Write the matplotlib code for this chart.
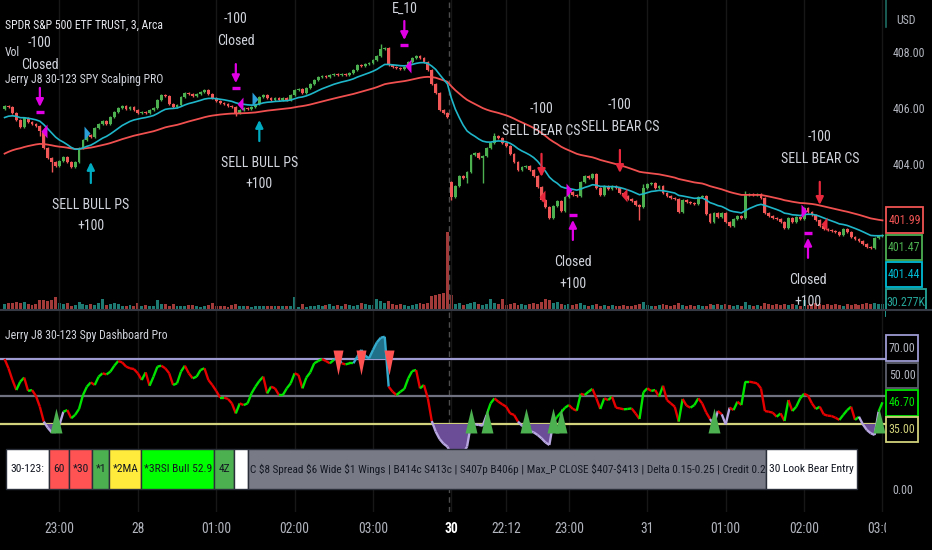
import numpy as np
import matplotlib
matplotlib.use("Agg")
import matplotlib.pyplot as plt
from matplotlib import font_manager
from matplotlib.collections import LineCollection
from matplotlib.patches import Rectangle

# ---- values: SPY 3 min bars, two extended sessions ----
closes = [
    406.07, 406.04, 405.82, 405.57, 405.32, 405.64, 405.50, 405.43, 405.36, 405.18,
    404.57, 404.21, 404.07, 403.93, 404.11, 404.25, 404.07, 403.89, 404.07, 404.57,
    404.86, 405.04, 404.96, 405.29, 405.43, 405.54, 405.43, 405.68, 405.86, 406.00,
    406.07, 405.96, 406.04, 405.93, 405.82, 405.86, 405.82, 405.93, 406.00, 406.29,
    406.46, 406.43, 406.14, 406.04, 406.11, 406.39, 406.54, 406.50, 406.43, 406.50,
    406.57, 406.64, 406.50, 406.36, 406.25, 406.18, 406.14, 406.07, 406.04, 405.82,
    405.93, 406.00, 405.96, 406.04, 406.14, 406.39, 406.46, 406.36, 406.29, 406.36,
    406.29, 406.36, 406.29, 406.46, 406.64, 406.68, 406.54, 406.71, 406.86, 407.00,
    407.11, 407.14, 407.11, 407.18, 407.21, 407.18, 407.21, 407.18, 407.25, 407.36,
    407.54, 407.50, 407.57, 407.61, 407.71, 407.86, 408.11, 408.14, 407.54, 407.46,
    407.43, 407.39, 407.46, 407.64, 407.79, 407.86, 407.79, 407.64, 407.36, 406.86,
    406.54, 405.93, 405.82, 405.68,
    402.82, 403.21, 403.57, 403.50, 403.71, 404.32,
    404.39, 404.21, 404.29, 404.57, 404.75, 405.00, 404.93, 404.75, 404.64, 404.36,
    404.07, 403.79, 403.89, 403.93, 403.79, 403.57, 403.18, 402.71, 402.46, 402.07,
    402.50, 402.68, 402.32, 402.82, 403.00, 402.89, 402.86, 403.36, 403.57, 403.50,
    403.64, 403.14, 402.89, 403.21, 403.11, 403.21, 403.14, 402.96, 402.86, 402.75,
    402.68, 402.54, 402.46, 403.14, 403.29, 403.32, 403.14, 403.21, 402.96, 402.86,
    402.79, 402.75, 402.29, 402.71, 402.64, 402.61, 402.57, 402.82, 402.86, 402.21,
    401.93, 402.25, 402.11, 402.25, 401.93, 401.79, 402.04, 402.14, 402.07, 402.89,
    402.93, 402.89, 402.93, 402.79, 402.25, 402.14, 402.07, 402.04, 401.93, 401.71,
    402.07, 401.93, 402.11, 402.04, 402.43, 402.29, 402.18, 402.00, 401.79, 401.68,
    401.64, 401.61, 401.57, 401.46, 401.68, 401.57, 401.39, 401.32, 401.25, 401.14,
    401.04, 401.00, 401.36, 401.43, 401.47,
]
first_open = 405.95
gap_open = {114: 403.36}
long_low = {9: 405.00, 12: 403.72, 59: 405.72, 114: 402.72, 118: 403.32,
            122: 403.32, 162: 402.00, 189: 402.05}
long_high = {96: 408.30, 125: 405.10, 163: 403.30, 189: 403.05}

# volume in thousands
volumes = [
    30, 36, 36, 42, 36, 42, 30, 24, 30, 54,
    54, 48, 54, 72, 36, 30, 36, 18, 24, 42,
    30, 24, 30, 24, 36, 60, 24, 30, 36, 30,
    18, 18, 24, 18, 36, 18, 24, 18, 18, 54,
    30, 30, 18, 30, 18, 18, 18, 24, 24, 18,
    12, 18, 24, 36, 18, 18, 18, 12, 24, 30,
    18, 18, 18, 12, 18, 18, 18, 18, 18, 18,
    18, 18, 18, 18, 72, 12, 30, 12, 18, 18,
    24, 18, 24, 30, 18, 24, 18, 30, 24, 18,
    24, 36, 30, 24, 24, 60, 48, 36, 48, 30,
    24, 30, 24, 18, 24, 30, 36, 30, 36, 80,
    84, 90, 100, 470,
    84, 30, 36, 24, 30, 36, 42, 30, 24, 30,
    60, 36, 30, 60, 24, 30, 36, 24, 30, 24,
    30, 36, 30, 42, 60, 54, 36, 42, 30, 24,
    30, 24, 30, 36, 24, 18, 24, 30, 18, 24,
    18, 24, 18, 18, 24, 18, 18, 24, 30, 42,
    24, 18, 18, 24, 30, 24, 18, 24, 36, 24,
    18, 24, 18, 24, 18, 18, 30, 24, 30, 24,
    30, 24, 18, 24, 18, 42, 24, 18, 24, 18,
    36, 30, 24, 30, 24, 30, 24, 30, 24, 18,
    54, 24, 30, 36, 30, 24, 30, 24, 30, 24,
    18, 30, 24, 30, 24, 30, 36, 30, 36, 30, 30.277,
]

# dashboard RSI line
rsi = [
    70.0, 65.0, 58.7, 53.3, 57.8, 60.0, 52.8, 53.3, 50.1, 44.3,
    36.3, 33.0, 30.5, 30.5, 34.5, 41.6, 42.5, 38.1, 39.9, 43.1,
    50.6, 55.1, 57.4, 56.0, 60.5, 62.3, 61.7, 63.2, 66.4, 68.9,
    68.2, 65.9, 65.0, 64.6, 62.3, 58.7, 62.8, 55.6, 60.5, 65.9,
    66.4, 65.0, 62.3, 56.0, 56.9, 63.2, 66.4, 62.3, 59.6, 60.5,
    64.1, 65.0, 58.7, 56.0, 52.8, 49.2, 49.2, 48.5, 46.1, 40.7,
    46.1, 45.2, 46.1, 51.5, 55.1, 58.2, 60.5, 51.5, 55.1, 54.2,
    50.6, 50.6, 54.2, 56.9, 62.3, 61.4, 54.2, 60.0, 62.8, 67.7,
    68.9, 70.0, 68.9, 67.7, 69.5, 71.3, 67.7, 67.1, 67.7, 67.7,
    71.3, 74.9, 71.8, 70.4, 74.9, 79.0, 81.5, 82.0, 55.1, 52.4,
    50.6, 52.4, 53.9, 59.6, 63.5, 64.1, 54.2, 56.0, 48.8, 36.6,
    30.9, 26.9, 24.4, 22.8,
    18.3, 17.4, 18.3, 19.2, 22.8, 34.8, 34.8, 34.5, 34.1, 39.9,
    46.1, 48.8, 47.0, 45.6, 44.3, 40.7, 39.9, 36.3, 34.1, 32.3,
    31.2, 30.5, 29.1, 27.3, 25.1, 23.7, 35.9, 38.9, 41.3, 43.8,
    45.2, 43.1, 42.2, 51.3, 50.6, 52.4, 53.9, 48.8, 43.1, 48.8,
    47.9, 49.7, 43.8, 43.4, 42.9, 43.1, 43.4, 40.7, 37.7, 52.1,
    54.2, 52.8, 53.3, 49.7, 55.6, 47.9, 46.1, 44.3, 36.3, 48.5,
    44.9, 43.8, 45.2, 48.8, 46.1, 41.3, 37.7, 34.5, 42.0, 40.2,
    34.8, 43.8, 42.5, 47.0, 45.2, 57.8, 57.8, 57.4, 56.9, 54.2,
    42.0, 41.6, 41.1, 38.9, 40.7, 36.6, 47.9, 42.0, 44.3, 48.8,
    51.3, 50.3, 46.1, 43.1, 44.3, 40.2, 39.5, 39.3, 38.4, 37.2,
    39.9, 42.5, 44.3, 37.2, 38.9, 34.8, 31.8, 30.0, 29.1, 41.6, 46.7,
]

tick_pos = [14, 34, 54, 74, 94, 114, 128, 144, 164, 184, 204, 224]
tick_labels = ["23:00", "28", "01:00", "02:00", "03:00", "30", "22:12",
               "23:00", "31", "01:00", "02:00", "03:00"]
session_break = 113.5

ema_fast_len, ema_fast_seed = 15, 405.60
ema_slow_len, ema_slow_seed = 50, 404.30

# strategy labels
ann_bars = [9, 59, 102, 22, 65, 137, 157, 208, 145, 205]
ann_price = [405.86, 406.71, 408.25, 404.07, 405.57, 403.54, 403.68, 402.54, 402.18, 401.54]
ann_kind = ["exit_dn", "exit_dn", "exit_dn", "bull_up", "bull_up",
            "bear_dn", "bear_dn", "bear_dn", "exit_up", "exit_up"]
ann_text = [("-100", "Closed"), ("-100", "Closed"), ("", "E_10"),
            ("SELL BULL PS", "+100"), ("SELL BULL PS", "+100"),
            ("-100", "SELL BEAR CS"), ("-100", "SELL BEAR CS"), ("-100", "SELL BEAR CS"),
            ("Closed", "+100"), ("Closed", "+100")]

# small flags next to the candles
sig_bars = [10, 21, 60, 64, 103, 137, 144, 158, 204, 209]
sig_price = [405.18, 405.11, 406.14, 406.32, 407.50, 402.82, 403.07, 402.89, 402.32, 401.86]
sig_dir = ["<", ">", "<", ">", "<", "<", ">", "<", ">", "<"]
sig_kind = ["exit", "bull", "exit", "bull", "exit", "bear", "exit", "bear", "exit", "bear"]

# dashboard triangles
bull_bars = [13, 119, 123, 133, 140, 142, 181, 223]
bear_bars = [85, 91, 98]
rsi_levels = [70, 50, 35]

table_text = ["30-123:", "60", "*30", "*1", "*2MA", "*3RSI Bull 52.9", "4Z", "",
              "C $8 Spread $6 Wide $1 Wings | B414c S413c | S407p B406p | "
              "Max_P CLOSE $407-$413 | Delta 0.15-0.25 | Credit 0.2",
              "30 Look Bear Entry"]
table_colors = ["#ffffff", "#ff5252", "#ff5252", "#4caf50", "#ffeb3b", "#00ff00",
                "#4caf50", "#ffffff", "#787b86", "#ffffff"]

# ---- font: prefer a narrow face, the screenshot text is very condensed ----
names = {f.name for f in font_manager.fontManager.ttflist}
FONT, STRETCH = "DejaVu Sans", "normal"
for cand in ["Roboto Condensed", "Liberation Sans Narrow", "Noto Sans Condensed",
             "Open Sans Condensed", "DejaVu Sans Condensed"]:
    if cand in names:
        FONT = cand
        break
else:
    cond = [f for f in font_manager.fontManager.ttflist
            if str(f.stretch) in ("condensed", "semi-condensed", "extra-condensed")
            and f.style == "normal"]
    if cond:
        FONT, STRETCH = cond[0].name, str(cond[0].stretch)
plt.rcParams["font.family"] = [FONT, "DejaVu Sans"]
plt.rcParams["font.stretch"] = STRETCH

GREEN, RED = "#4caf50", "#f25757"
VUP, VDN = "#1d7a73", "#a23a3a"
MAG, CYAN, BEARRED, BLUE = "#e100e6", "#00acc1", "#e8283c", "#2a9fd8"
TXT = "#d1d4dc"
AXT = "#b2b5be"

W, H = 932, 550
fig = plt.figure(figsize=(W / 100, H / 100), dpi=100, facecolor="black")
renderer = fig.canvas.get_renderer()


def rect(x0, y0, x1, y1):
    return [x0 / W, 1 - y1 / H, (x1 - x0) / W, (y1 - y0) / H]


def fit(s, width_px, **kw):
    t = fig.text(0, 0, s, fontsize=10, **kw)
    w = t.get_window_extent(renderer).width
    t.remove()
    return 10 * width_px / w


def pt(px):
    return px * 0.72


def ema(values, length, seed):
    a = 2 / (length + 1)
    out, prev = [], seed
    for v in values:
        prev = prev + a * (v - prev)
        out.append(prev)
    return np.array(out)


fs_ann = fit("SELL BEAR CS", 54) * 1.45
fs_leg = fit("Jerry J8 30-123 SPY Scalping PRO", 122) * 1.3
fs_tick = fit("23:00", 22) * 1.35
fs_axis = fit("408.00", 28) * 1.15
fs_tab = min(fit("*3RSI Bull 52.9", 68), fit("30 Look Bear Entry", 86), fit("30-123:", 39))
fs_grey = fit(table_text[8], 512)

idx = np.arange(len(closes))
c = np.array(closes)
o = np.r_[first_open, c[:-1]]
for k, v in gap_open.items():
    o[k] = v
up = c >= o
hi = np.maximum(o, c) + 0.03
lo = np.minimum(o, c) - 0.03
for k, v in long_low.items():
    lo[k] = v
for k, v in long_high.items():
    hi[k] = v
fast = ema(c, ema_fast_len, ema_fast_seed)
slow = ema(c, ema_slow_len, ema_slow_seed)
r = np.array(rsi)

XL = (-1.17, 224.9)

# volume pane (under the candles)
ax_v = fig.add_axes(rect(0, 0, 886, 309))
ax_v.set_facecolor("black")
ax_v.bar(idx, volumes, width=0.75, color=np.where(up, VUP, VDN), linewidth=0)
ax_v.set_ylim(0, 1880)
ax_v.set_xlim(*XL)
ax_v.axis("off")

# price pane
ax_p = fig.add_axes(rect(0, 0, 886, 309))
ax_p.patch.set_visible(False)
for t in tick_pos:
    ax_p.axvline(t, color="#171717", lw=1, zorder=0)
ax_p.axvline(session_break, color="#4d4d4d", lw=1, ls=(0, (4, 3)), zorder=0)
col = np.where(up, GREEN, RED)
ax_p.vlines(idx, lo, hi, colors=col, lw=1, zorder=2)
ax_p.bar(idx, np.maximum(np.abs(c - o), 0.025), bottom=np.minimum(o, c),
         width=0.72, color=col, linewidth=0, zorder=3)
ax_p.plot(idx, slow, color="#f0504f", lw=1.3, zorder=4)
ax_p.plot(idx, fast, color="#1fb6c9", lw=1.2, zorder=4)
ax_p.set_xlim(*XL)
ax_p.set_ylim(398.82, 409.857)

tri_l = [(3, 7), (3, -7), (-3, 0)]
tri_r = [(-3, 7), (-3, -7), (3, 0)]
sig_col = {"exit": MAG, "bull": BLUE, "bear": BEARRED}
for b, p, d, k in zip(sig_bars, sig_price, sig_dir, sig_kind):
    ax_p.plot(b, p, marker=tri_l if d == "<" else tri_r, ms=10, color=sig_col[k],
              mec="none", zorder=5)

styles = {
    "exit_dn": (MAG, 24, 5, True, (69, 47)),
    "exit_up": (MAG, -25, 5, True, (-47, -69)),
    "bull_up": (CYAN, -21, 0, False, (-43, -64)),
    "bear_dn": (BEARRED, 23, 0, False, (68, 46)),
}
for b, p, k, lines in zip(ann_bars, ann_price, ann_kind, ann_text):
    color, shaft, gap, bar_mark, offs = styles[k]
    ax_p.annotate("", xy=(b, p), xytext=(0, pt(shaft)), textcoords="offset points",
                  arrowprops=dict(arrowstyle="-|>,head_length=0.45,head_width=0.22",
                                  color=color, lw=1.6, shrinkA=0, shrinkB=pt(gap)),
                  annotation_clip=False, zorder=6)
    if bar_mark:
        ax_p.plot(b, p, marker="_", ms=5.5, mew=2.4, color=color, zorder=6)
    for s, off in zip(lines, offs):
        if not s:
            continue
        t = ax_p.annotate(s, xy=(b, p), xytext=(0, pt(off)), textcoords="offset points",
                          ha="center", va="center", color=TXT, fontsize=fs_ann,
                          annotation_clip=False, zorder=6)
        bb = t.get_window_extent(renderer)
        if bb.y1 > H - 1:  # keep the label on the canvas
            t.xyann = (0, pt(off - (bb.y1 - H + 2)))

ax_p.yaxis.tick_right()
ax_p.set_yticks([404, 406, 408], [f"{v:.2f}" for v in (404, 406, 408)])
ax_p.tick_params(axis="y", length=0, pad=4.5, labelcolor=AXT, labelsize=fs_axis)
ax_p.tick_params(axis="x", bottom=False, labelbottom=False)
for s in ax_p.spines.values():
    s.set_visible(False)

# dashboard pane
ax_r = fig.add_axes(rect(0, 310, 886, 512))
ax_r.set_facecolor("black")
for t in tick_pos:
    ax_r.axvline(t, color="#171717", lw=1, zorder=0)
ax_r.axvline(session_break, color="#4d4d4d", lw=1, ls=(0, (4, 3)), zorder=0)
for lvl, lc in zip(rsi_levels, ["#9d9bd2", "#6f7080", "#d2d27c"]):
    ax_r.axhline(lvl, color=lc, lw=1.6, zorder=1)
ax_r.fill_between(idx, r, 35, where=r < 35, interpolate=True, color="#6b4c96", lw=0, zorder=2)
ax_r.fill_between(idx, r, 70, where=r > 70, interpolate=True, color="#1f7088", lw=0, zorder=2)
segs = np.stack([np.c_[idx[:-1], r[:-1]], np.c_[idx[1:], r[1:]]], axis=1)
seg_col = []
for a, b in zip(r[:-1], r[1:]):
    if a > 70 or b > 70:
        seg_col.append("#35aacd")
    elif a < 35 or b < 35:
        seg_col.append("#b7a6e0")
    elif b >= a:
        seg_col.append("#00e400")
    else:
        seg_col.append("#e60000")
ax_r.add_collection(LineCollection(segs, colors=seg_col, linewidths=1.7, zorder=3))
up_tri = [(-6, -9), (6, -9), (0, 16)]
dn_tri = [(-5, 9), (5, 9), (0, -16)]
ax_r.plot(bull_bars, np.full(len(bull_bars), 35.0), ls="none", marker=up_tri, ms=23,
          color="#4caf50", mec="none", zorder=4)
ax_r.plot(bear_bars, np.full(len(bear_bars), 70.0), ls="none", marker=dn_tri, ms=23,
          color="#ff5252", mec="none", zorder=4)
ax_r.set_xlim(*XL)
ax_r.set_ylim(-12.4, 96.4)
ax_r.set_xticks(tick_pos, tick_labels)
ax_r.tick_params(axis="x", length=0, pad=7, labelcolor=AXT, labelsize=fs_tick)
for lab in ax_r.get_xticklabels():
    if lab.get_text() == "30":
        lab.set_fontweight("bold")
        lab.set_color("#ffffff")
ax_r.yaxis.tick_right()
ax_r.set_yticks([0], ["0.00"])
ax_r.tick_params(axis="y", length=0, pad=4.5, labelcolor=AXT, labelsize=fs_axis)
for s in ax_r.spines.values():
    s.set_visible(False)

# overlay in pixel units: legends, value tags, table
ax_o = fig.add_axes([0, 0, 1, 1])
ax_o.set_xlim(0, W)
ax_o.set_ylim(H, 0)
ax_o.axis("off")
ax_o.patch.set_visible(False)

ax_o.text(5, 25, "SPDR S&P 500 ETF TRUST, 3, Arca", color="#e6e8ee", fontsize=fs_leg,
          va="center")
ax_o.text(5, 53, "Vol", color=TXT, fontsize=fs_leg, va="center")
ax_o.text(5, 80, "Jerry J8 30-123 SPY Scalping PRO", color=TXT, fontsize=fs_leg, va="center")
ax_o.text(5, 336, "Jerry J8 30-123 Spy Dashboard Pro", color=TXT, fontsize=fs_leg,
          va="center")
ax_o.text(896, 21, "USD", color=AXT, fontsize=fs_axis, va="center")
ax_o.plot([886, 886], [0, 27], color="#1e6b62", lw=1.2)


def tag(y0, y1, s, color, x1=922, tc=None):
    ax_o.add_patch(Rectangle((886, y0), x1 - 886, y1 - y0, facecolor="black",
                             edgecolor=color, lw=1.3, zorder=5))
    ax_o.text((886 + x1) / 2, (y0 + y1) / 2, s, color=tc or color, fontsize=fs_axis,
              ha="center", va="center", zorder=6)


tag(207, 233, f"{slow[-1]:.2f}", "#f05454", x1=923)
tag(235, 260, f"{c[-1]:.2f}", "#4caf50")
tag(262, 287, f"{fast[-1]:.2f}", "#00bcd4")
tag(289, 316, f"{volumes[-1]:.3f}K", "#26a69a", x1=926)
ax_o.add_patch(Rectangle((886, 309), 46, 25, facecolor="black", lw=0, zorder=7))
ax_o.plot([0, W], [309.5, 309.5], color="#363a45", lw=1.5, zorder=8)

tag(335, 361, "70.00", "#9d9bd2", x1=918, tc=AXT)
tag(363, 388, "50.00", "#5d606b", x1=918, tc=AXT)
tag(390, 416, f"{r[-1]:.2f}", "#00e600", x1=918)
tag(417, 442, "35.00", "#d2d27c", x1=918)
ax_o.add_patch(Rectangle((886, 513), 46, 37, facecolor="black", lw=0, zorder=7))

edges = [6, 48.7, 68.7, 92.3, 109.3, 141.3, 214.3, 234.3, 248, 766, 857]
for i, (s, fc) in enumerate(zip(table_text, table_colors)):
    x0, x1 = edges[i], edges[i + 1]
    ax_o.add_patch(Rectangle((x0, 449), x1 - x0, 40, facecolor=fc, edgecolor="#2a2e39",
                             lw=1, zorder=9))
    if i == 8:
        ax_o.text(x0 + 2, 469, s, color="#131722", fontsize=fs_grey, ha="left",
                  va="center", zorder=10)
    elif s:
        ax_o.text((x0 + x1) / 2, 469, s, color="#131722", fontsize=fs_tab, ha="center",
                  va="center", zorder=10)

fig.savefig("out.png", dpi=100, facecolor="black")
